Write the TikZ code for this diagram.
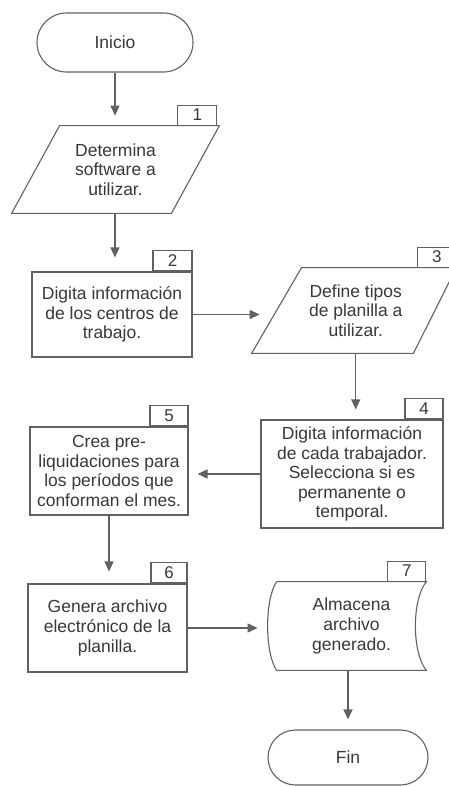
\documentclass[tikz,border=0pt]{standalone}
\usepackage{fontspec}
\setmainfont{Liberation Sans}
\usetikzlibrary{shapes.misc,arrows.meta,calc}
\begin{document}
\begin{tikzpicture}[x=0.5pt,y=-0.5pt,
  ln/.style={draw=black!62, line width=0.55pt},
  txt/.style={font=\fontsize{8.75pt}{9.8pt}\selectfont, text=black!78, align=center, inner sep=0pt},
  procbox/.style={txt, ln, rectangle},
  shapebox/.style={txt, rectangle},
  term/.style={txt, ln, rounded rectangle},
  numbox/.style={ln, rectangle, minimum height=10pt, minimum width=19pt, inner sep=0pt,
    font=\fontsize{8.5pt}{9pt}\selectfont, text=black!78, anchor=south east},
  arr/.style={ln, -{Triangle[length=5pt,width=4.5pt]}},
]
\fill[white, use as bounding box] (0,0) rectangle (449,787);
\clip (0,0) rectangle (449,787);

% Inicio
\node[term, minimum width=78pt, minimum height=29.5pt] (inicio) at (115,42.5) {Inicio};

% 1 parallelogram
\node[shapebox, minimum width=79.5pt, minimum height=43.5pt] (p1) at (115.5,169.5)
  {Determina\\software a\\utilizar.};
\draw[ln] ($(p1.north west)+(24,0)$) -- ($(p1.north east)+(24,0)$)
  -- ($(p1.south east)+(-24,0)$) -- ($(p1.south west)+(-24,0)$) -- cycle;
\node[numbox, minimum width=19.5pt] (n1) at ($(p1.north east)+(22,0)$) {1};

% 2 rectangle
\node[procbox, minimum width=80pt, minimum height=42.5pt] (r2) at (112,314.5)
  {Digita información\\de los centros de\\trabajo.};
\node[numbox, minimum width=19.5pt] (n2) at (r2.north east) {2};

% 3 parallelogram
\node[shapebox, minimum width=78.75pt, minimum height=42.5pt] (p3) at (355.75,310.5)
  {Define tipos\\de planilla a\\utilizar.};
\draw[ln] ($(p3.north west)+(25,0)$) -- ($(p3.north east)+(21.5,0)$)
  -- ($(p3.south east)+(-21.5,0)$) -- ($(p3.south west)+(-25,0)$) -- cycle;
\node[numbox, minimum width=19pt] (n3) at ($(p3.north east)+(21.5,0)$) {3};

% 4 rectangle
\node[procbox, minimum width=91pt, minimum height=54pt] (r4) at (352,474)
  {Digita información\\de cada trabajador.\\Selecciona si es\\permanente o\\temporal.};
\node[numbox] (n4) at (r4.north east) {4};

% 5 rectangle
\node[procbox, minimum width=79pt, minimum height=44pt] (r5) at (109,471)
  {Crea pre-\\liquidaciones para\\los períodos que\\conforman el mes.};
\node[numbox] (n5) at (r5.north east) {5};

% 6 rectangle
\node[procbox, minimum width=79.5pt, minimum height=44pt] (r6) at (107.5,628)
  {Genera archivo\\electrónico de la\\planilla.};
\node[numbox, minimum width=18pt] (n6) at (r6.north east) {6};

% 7 stored data
\node[shapebox, minimum width=74.5pt, minimum height=44pt] (s7) at (351.5,626)
  {Almacena\\archivo\\generado.};
\draw[ln] (s7.north west) -- (s7.north east)
  .. controls +(-14.7,18) and +(-14.7,-18) .. (s7.south east)
  -- (s7.south west)
  .. controls +(-12,-18) and +(-12,18) .. (s7.north west);
\node[numbox] (n7) at (s7.north east) {7};

% Fin
\node[term, minimum width=80pt, minimum height=27.5pt] (fin) at (348,757.5) {Fin};

% connectors
\draw[arr, shorten >=5pt] (inicio.south) -- (p1.north -| inicio.south);
\draw[arr, shorten >=7pt] (p1.south -| inicio.south) -- (r2.north -| inicio.south);
\draw[arr, shorten >=8.5pt] (r2.east) -- (p3.west |- r2.east);
\draw[arr, shorten >=5pt] (p3.south) -- (p3.south |- r4.north);
\draw[arr, shorten >=4.5pt] (r4.west) -- (r5.east |- r4.west);
\draw[arr, shorten >=6pt] (r5.south) -- (r5.south |- r6.north);
\draw[arr, shorten >=9.5pt] (r6.east) -- (s7.west |- r6.east);
\draw[arr, shorten >=5pt] (fin.north |- s7.south) -- (fin.north);
\end{tikzpicture}
\end{document}
